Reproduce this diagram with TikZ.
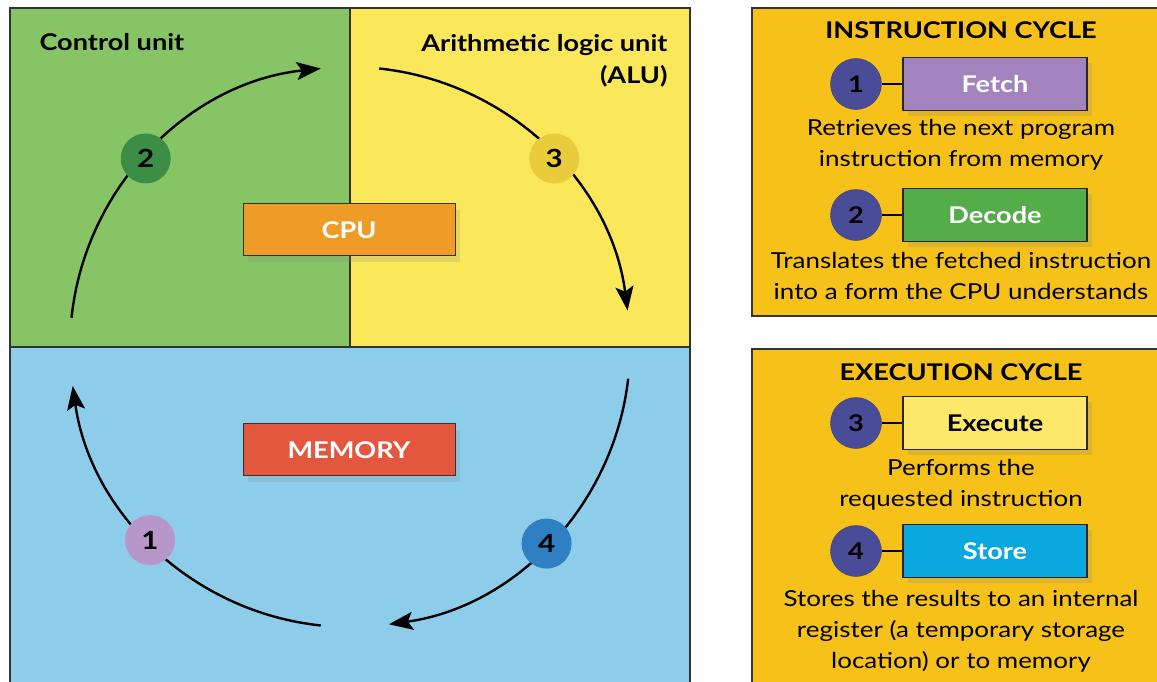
\documentclass[tikz,border=0pt]{standalone}
\usepackage{fontspec}
\setmainfont{Lato}[FakeStretch=1.18]
\usetikzlibrary{arrows.meta,shadows}
\definecolor{ctrlgreen}{HTML}{86C466}
\definecolor{alublue}{HTML}{8ECDEA}
\definecolor{aluyellow}{HTML}{FAE85A}
\definecolor{cyclegold}{HTML}{F6C21A}
\definecolor{cpuorange}{HTML}{EE9B28}
\definecolor{memred}{HTML}{E4573F}
\definecolor{dotone}{HTML}{B797C9}
\definecolor{dottwo}{HTML}{3C8D45}
\definecolor{dotthree}{HTML}{EACB3C}
\definecolor{dotfour}{HTML}{2E80C3}
\definecolor{stepnavy}{HTML}{4A4C98}
\definecolor{fetchcol}{HTML}{A283BE}
\definecolor{decodecol}{HTML}{55AD4A}
\definecolor{execcol}{HTML}{FCE96A}
\definecolor{storecol}{HTML}{0BA8DF}

\begin{document}
\begin{tikzpicture}[x=1pt, y=1pt,
    panel/.style={draw=black!80, line width=1.2pt},
    unitbox/.style={draw=black!80, line width=1pt, minimum width=212pt, minimum height=52pt, text=white, font=\fontsize{23}{27}\selectfont\bfseries, drop shadow={opacity=0.2, shadow xshift=5pt, shadow yshift=-6pt}},
    badge/.style={circle, minimum size=50pt, inner sep=0pt, font=\fontsize{25}{29}\selectfont\bfseries},
    flow/.style={-{Stealth[length=24pt,width=18pt,inset=5pt]}, line width=2.4pt},
    heading/.style={font=\fontsize{23}{32}\selectfont\bfseries},
    stepdot/.style={circle, fill=stepnavy, draw=stepnavy!80!black, minimum size=51pt, inner sep=0pt, font=\fontsize{23}{27}\selectfont\bfseries},
    phase/.style={draw=black!85, line width=1.2pt, minimum width=184pt, minimum height=53pt, font=\fontsize{23}{27}\selectfont\bfseries, drop shadow={opacity=0.2, shadow xshift=5pt, shadow yshift=-6pt}},
    note/.style={align=center, font=\fontsize{22}{31}\selectfont},
    tie/.style={line width=2.2pt}
]
\useasboundingbox (0,0) rectangle (1157,682);
\fill[white] (0,0) rectangle (1157,682);

% processor and memory panels
\fill[ctrlgreen] (10,335) rectangle (350,674);
\fill[aluyellow] (350,335) rectangle (690,674);
\fill[alublue] (10,-10) rectangle (690,335);
\draw[panel] (10,-10) rectangle (690,674);
\draw[panel] (10,335) -- (690,335);
\draw[panel] (350,335) -- (350,674);

\node[heading, anchor=west] (ctrl) at (36,640) {Control unit};
\node[heading, anchor=north east, align=right] (alu) at (671,651) {Arithmetic logic unit\\(ALU)};

\node[unitbox, fill=cpuorange] (cpu) at (349,452) {CPU};
\node[unitbox, fill=memred] (memory) at (349,232) {MEMORY};

% the cycle around the middle
\coordinate (hub) at (350,335);
\foreach \from/\to in {174/96, 84/7.5, -6.5/-82, -96/-172}
    \draw[flow] ([shift={(\from:280)}]hub) arc[start angle=\from, end angle=\to, radius=280];

\foreach \n/\ang/\col in {1/224/dotone, 2/137.3/dottwo, 3/42.7/dotthree, 4/315/dotfour}
    \node[badge, fill=\col] (b\n) at ([shift={(\ang:278)}]hub) {\n};

% cycle legend
\fill[cyclegold] (752,366) rectangle (1170,674);
\draw[panel] (1170,366) -- (752,366) -- (752,674) -- (1170,674);
\fill[cyclegold] (752,-10) rectangle (1170,333);
\draw[panel] (1170,333) -- (752,333) -- (752,-10);

\node[heading] (instr) at (961,652) {INSTRUCTION CYCLE};
\node[heading] (exec) at (961,310) {EXECUTION CYCLE};

\foreach \n/\y/\lbl/\col/\tcol in {1/598/Fetch/fetchcol/white, 2/467/Decode/decodecol/white, 3/259/Execute/execcol/black, 4/131/Store/storecol/white} {
    \node[phase, fill=\col, text=\tcol] (p\n) at (995,\y) {\lbl};
    \node[stepdot] (s\n) at (856,\y) {\n};
    \draw[tie] (s\n) -- (p\n);
}

\node[note] (fetchtxt) at (961,537) {Retrieves the next program\\instruction from memory};
\node[note] (decodetxt) at (961,406) {Translates the fetched instruction\\into a form the CPU understands};
\node[note] (exectxt) at (961,197) {Performs the\\requested instruction};
\node[note] (storetxt) at (961,51) {Stores the results to an internal\\register (a temporary storage\\location) or to memory};
\end{tikzpicture}
\end{document}
